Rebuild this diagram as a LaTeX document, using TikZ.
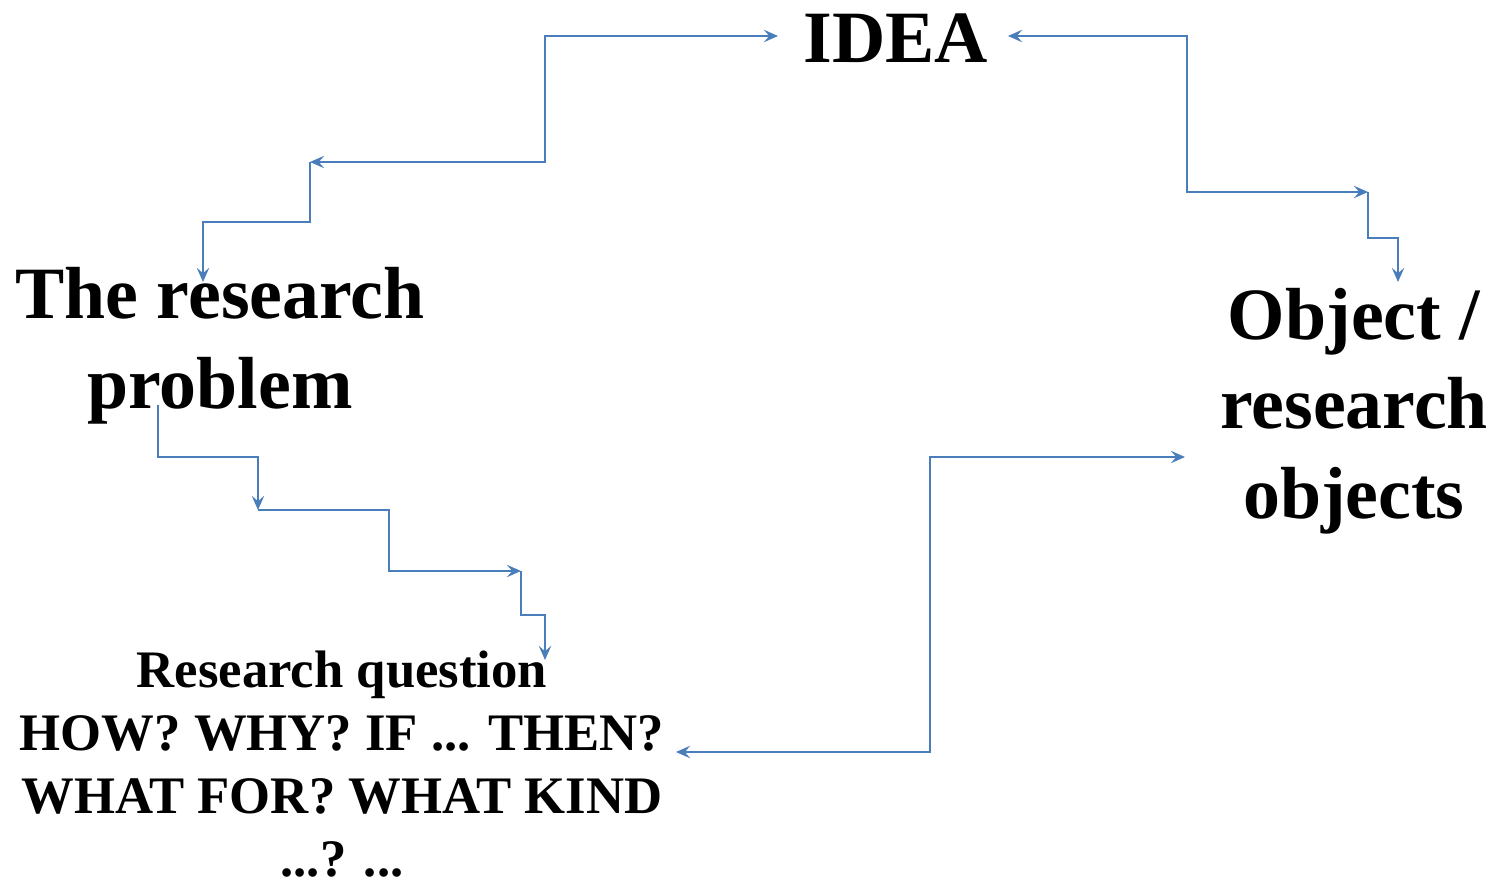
\documentclass[tikz,border=0pt]{standalone}
\usepackage{fontspec}
\setmainfont{Liberation Serif}
\usetikzlibrary{arrows.meta}
\definecolor{linkblue}{HTML}{4A7EBB}
\tikzset{main node/.style={font=\bfseries\fontsize{42}{51}\selectfont, align=center, inner sep=0pt},
         small node/.style={font=\bfseries\fontsize{30}{35.7}\selectfont, align=center, inner sep=0pt},
         link/.style={draw=linkblue, line width=1.2pt},}

\begin{document}
\begin{tikzpicture}[x=0.02cm, y=-0.02cm, >={Stealth[length=8pt, width=7pt, inset=3pt]}]
        \useasboundingbox (0,0) rectangle (1492,886);
        % Texts
        \node[main node, anchor=base] (1) at (896,62) {IDEA};
        \node[main node] (2) at (220,346) {The research\\problem};
        \node[main node] (3) at (1354,411) {Object /\\research\\objects};
        \node[small node] (4) at (342,764) {Research question\\HOW? WHY? IF ... THEN?\\WHAT FOR? WHAT KIND\\...? ...};
        % Ends and joints
        \coordinate (1l) at (778,36);
        \coordinate (1r) at (1008,36);
        \coordinate (2t) at (203,282);
        \coordinate (2b) at (158,405);
        \coordinate (3t) at (1398,282);
        \coordinate (3l) at (1185,457);
        \coordinate (4t) at (545,660);
        \coordinate (4r) at (676,752);
        \coordinate (a) at (310,162);
        \coordinate (b) at (1368,192);
        \coordinate (c) at (258,510);
        \coordinate (d) at (521,571);
        % Paths
        \draw[link, <->] (a) -| (545,36) -- (1l);
        \draw[link, ->] (a) -- ++(0,60) -| (2t);
        \draw[link, <->] (1r) -| (1187,192) -- (b);
        \draw[link, ->] (b) |- (1398,238) -- (3t);
        \draw[link, ->] (2b) |- (258,457) -- (c);
        \draw[link, ->] (c) -| (389,571) -- (d);
        \draw[link, ->] (d) |- (545,615) -- (4t);
        \draw[link, <->] (4r) -| (930,457) -- (3l);
    \end{tikzpicture}
\end{document}
